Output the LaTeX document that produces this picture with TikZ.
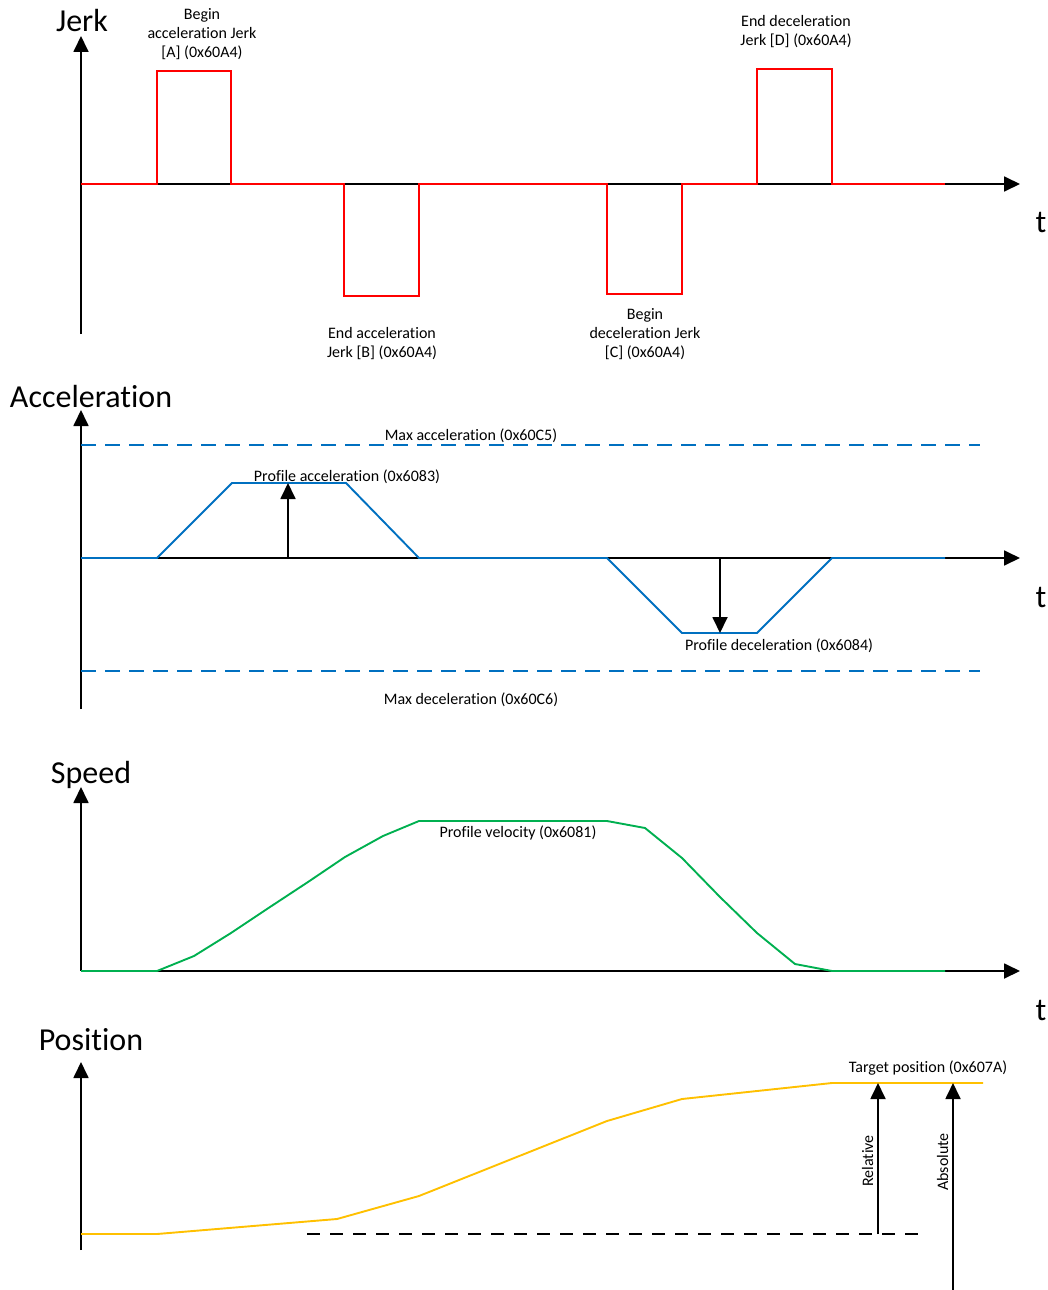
\documentclass[tikz,border=0pt]{standalone}
\usepackage{fontspec}
\setmainfont{Carlito}[Ligatures=NoCommon]
\usetikzlibrary{arrows.meta}
\definecolor{red4}{HTML}{FF0000}
\definecolor{blue4}{HTML}{0070C0}
\definecolor{green4}{HTML}{00B050}
\definecolor{yellow4}{HTML}{FFC000}

\begin{document}
\begin{tikzpicture}[x=1pt, y=-1pt, >={Triangle[length=16pt,width=15pt]},
  axis/.style={->, line width=1.8pt},
  trace/.style={line width=1.9pt, line join=miter},
  big/.style={font=\fontsize{32}{36}\selectfont, inner sep=0pt, anchor=base},
  small/.style={font=\fontsize{16}{19}\selectfont, inner sep=0pt, anchor=base, align=center}]

  \useasboundingbox (0,0) rectangle (1048,1290);

  % jerk
  \coordinate (jo) at (81,184);
  \coordinate (jb) at (81,334);
  \coordinate (jtop) at (81,36);
  \coordinate (jend) at (1020,184);
  \draw[axis] (jb) -- (jtop);
  \draw[axis] (jo) -- (jend);
  \node[big] (jlbl) at (82,32) {Jerk};
  \node[big] (jt) at (1041,232) {t};
  \draw[trace, red4] (81,184) -- (157,184) -- (157,71) -- (231,71) -- (231,184)
    -- (344,184) -- (344,296) -- (419,296) -- (419,184) -- (607,184) -- (607,294)
    -- (682,294) -- (682,184) -- (757,184) -- (757,69) -- (832,69) -- (832,184) -- (945,184);
  \node[small] (jerkA) at (202,58) {Begin\\acceleration Jerk\\{[A]} (0x60A4)};
  \node[small] (jerkB) at (382,357) {End acceleration\\Jerk [B] (0x60A4)};
  \node[small] (jerkC) at (645,357) {Begin\\deceleration Jerk\\{[C]} (0x60A4)};
  \node[small] (jerkD) at (796,46) {End deceleration\\Jerk [D] (0x60A4)};

  % acceleration
  \coordinate (ao) at (81,558);
  \coordinate (ab) at (81,709);
  \coordinate (atop) at (81,410);
  \coordinate (aend) at (1020,558);
  \draw[axis] (ab) -- (atop);
  \draw[axis] (ao) -- (aend);
  \node[big] (albl) at (91,407) {Acceleration};
  \node[big] (at) at (1041,607) {t};
  \draw[trace, blue4, dash pattern=on 15pt off 9pt] (81,445) -- (980,445);
  \draw[trace, blue4, dash pattern=on 15pt off 9pt] (81,671) -- (980,671);
  \node[small] (amax) at (471,440) {Max acceleration (0x60C5)};
  \node[small] (dmax) at (471,704) {Max deceleration (0x60C6)};
  \draw[trace, blue4] (81,558) -- (157,558) -- (232,483) -- (346,483) -- (419,558)
    -- (607,558) -- (682,633) -- (757,633) -- (832,558) -- (945,558);
  \coordinate (pa0) at (288,558);
  \coordinate (pa1) at (288,483);
  \coordinate (pd0) at (720,558);
  \coordinate (pd1) at (720,633);
  \draw[axis] (pa0) -- (pa1);
  \draw[axis] (pd0) -- (pd1);
  \node[small] (aprof) at (347,481) {Profile acceleration (0x6083)};
  \node[small] (dprof) at (779,650) {Profile deceleration (0x6084)};

  % speed
  \coordinate (so) at (81,971);
  \coordinate (stop) at (81,787);
  \coordinate (send) at (1020,971);
  \draw[axis] (so) -- (stop);
  \draw[axis] (so) -- (send);
  \node[big] (slbl) at (91,783) {Speed};
  \node[big] (st) at (1041,1020) {t};
  \draw[trace, green4] (81,971) -- (157,971) -- (194,956) -- (231,933) -- (270,907)
    -- (308,882) -- (345,857) -- (383,836) -- (419,821) -- (607,821) -- (645,828)
    -- (682,858) -- (720,897) -- (757,933) -- (795,964) -- (832,971) -- (945,971);
  \node[small] (vprof) at (518,837) {Profile velocity (0x6081)};

  % position
  \coordinate (pb) at (81,1250);
  \coordinate (ptop) at (81,1062);
  \draw[axis] (pb) -- (ptop);
  \node[big] (plbl) at (91,1050) {Position};
  \draw[line width=1.8pt, dash pattern=on 13pt off 10pt] (307,1234) -- (918,1234);
  \draw[trace, yellow4] (81,1234) -- (157,1234) -- (337,1219) -- (419,1196)
    -- (607,1121) -- (682,1099) -- (832,1083) -- (983,1083);
  \node[small] (target) at (928,1072) {Target position (0x607A)};
  \coordinate (rel0) at (878,1234);
  \coordinate (rel1) at (878,1083);
  \coordinate (abs0) at (953,1290);
  \coordinate (abs1) at (953,1083);
  \draw[axis] (rel0) -- (rel1);
  \draw[axis] (abs0) -- (abs1);
  \node[small, rotate=90] (rel) at (873,1161) {Relative};
  \node[small, rotate=90] (abs) at (948,1162) {Absolute};
\end{tikzpicture}
\end{document}
